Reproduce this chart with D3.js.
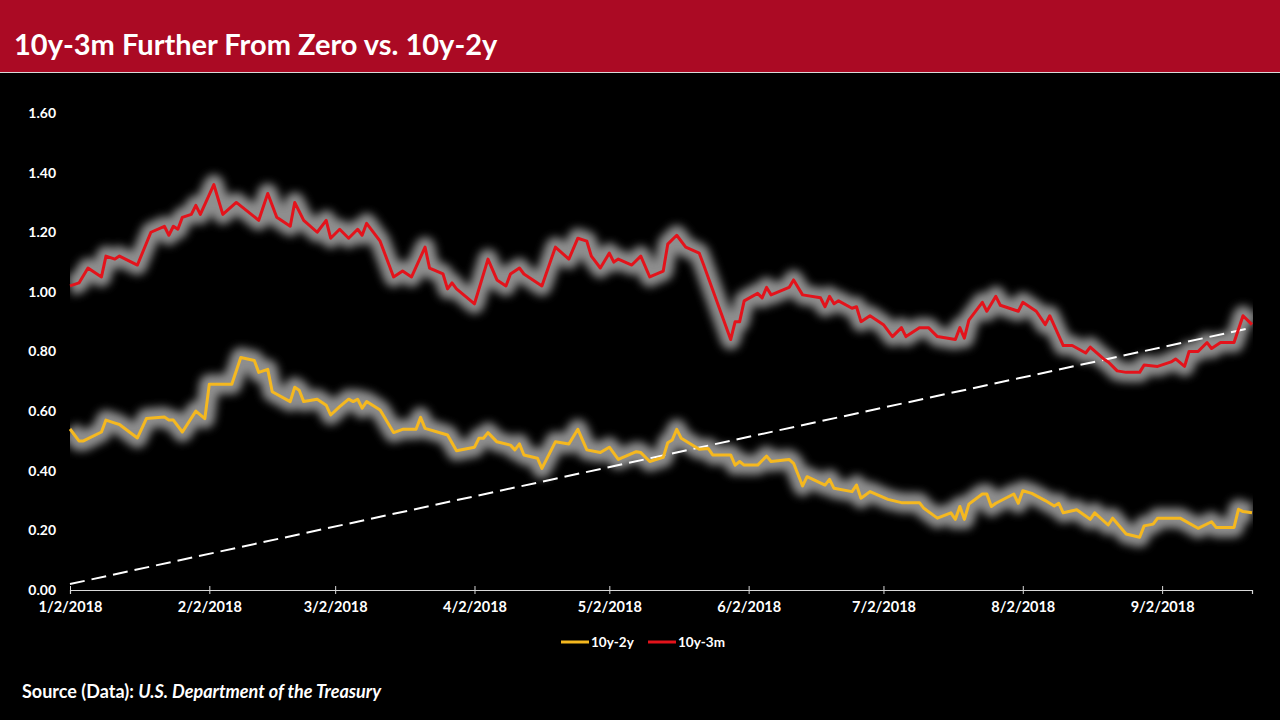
<!DOCTYPE html>
<html><head><meta charset="utf-8">
<script src="https://cdn.jsdelivr.net/npm/d3@7"></script>
<style>html,body{margin:0;padding:0;background:#000;}svg{display:block;}</style>
</head><body>
<svg id="chart" width="1280" height="720"></svg>
<script>
const titleText = "10y-3m Further From Zero vs. 10y-2y";
const sourceLabel = "Source (Data): ";
const sourceName = "U.S. Department of the Treasury";
const seriesNames = ["10y-2y", "10y-3m"];
const yTicks = [0, 0.2, 0.4, 0.6, 0.8, 1.0, 1.2, 1.4, 1.6];
const xTickLabels = ["2018-01-02","2018-02-02","2018-03-02","2018-04-02","2018-05-02","2018-06-02","2018-07-02","2018-08-02","2018-09-02"];
const xDomain = ["2018-01-02", "2018-09-22"];

const dates2y = ["01-02","01-04","01-05","01-09","01-10","01-12","01-13","01-17","01-19","01-23","01-24","01-25","01-27","01-30","02-01","02-02","02-07","02-09","02-12","02-13","02-15","02-16","02-20","02-21","02-22","02-23","02-26","02-28","03-01","03-03","03-05","03-06","03-07","03-08","03-09","03-12","03-15","03-17","03-20","03-21","03-22","03-27","03-29","04-02","04-03","04-04","04-05","04-07","04-10","04-11","04-12","04-13","04-16","04-17","04-20","04-23","04-25","04-27","04-30","05-02","05-04","05-08","05-09","05-11","05-12","05-14","05-15","05-16","05-17","05-18","05-22","05-24","05-25","05-29","05-30","05-31","06-01","06-04","06-06","06-07","06-11","06-12","06-14","06-15","06-19","06-20","06-21","06-25","06-26","06-27","06-29","07-03","07-06","07-10","07-11","07-14","07-17","07-18","07-19","07-20","07-21","07-24","07-25","07-26","07-27","07-31","08-01","08-02","08-04","08-07","08-09","08-10","08-11","08-14","08-17","08-18","08-21","08-22","08-25","08-28","08-29","08-31","09-01","09-06","09-10","09-13","09-14","09-18","09-19","09-20","09-22"];
const values2y = [0.54,0.50,0.50,0.53,0.57,0.56,0.555,0.51,0.575,0.58,0.57,0.57,0.53,0.60,0.575,0.69,0.69,0.78,0.77,0.73,0.74,0.665,0.632,0.68,0.67,0.632,0.64,0.62,0.587,0.615,0.64,0.632,0.64,0.61,0.632,0.604,0.528,0.539,0.539,0.579,0.542,0.52,0.467,0.479,0.509,0.509,0.528,0.497,0.486,0.47,0.49,0.453,0.442,0.408,0.497,0.49,0.539,0.47,0.461,0.479,0.438,0.464,0.461,0.431,0.436,0.445,0.494,0.503,0.539,0.509,0.472,0.475,0.453,0.453,0.419,0.431,0.419,0.419,0.449,0.431,0.438,0.425,0.349,0.38,0.352,0.371,0.341,0.33,0.352,0.308,0.33,0.304,0.293,0.293,0.274,0.241,0.259,0.237,0.28,0.237,0.288,0.322,0.322,0.28,0.291,0.322,0.291,0.333,0.324,0.30,0.282,0.291,0.259,0.269,0.237,0.259,0.218,0.241,0.188,0.177,0.215,0.221,0.241,0.241,0.207,0.229,0.21,0.21,0.271,0.263,0.259];

const dates3m = ["01-02","01-04","01-06","01-09","01-10","01-12","01-13","01-17","01-20","01-23","01-24","01-25","01-26","01-27","01-29","01-30","01-31","02-03","02-05","02-08","02-13","02-15","02-17","02-20","02-21","02-23","02-26","02-28","03-01","03-03","03-05","03-07","03-08","03-09","03-12","03-15","03-17","03-19","03-22","03-23","03-26","03-27","03-28","03-29","04-02","04-05","04-07","04-09","04-10","04-12","04-13","04-17","04-20","04-23","04-25","04-27","04-28","04-30","05-02","05-03","05-04","05-07","05-09","05-11","05-14","05-15","05-17","05-19","05-22","05-23","05-29","05-30","05-31","06-01","06-04","06-05","06-06","06-07","06-11","06-12","06-14","06-18","06-19","06-20","06-21","06-22","06-25","06-26","06-27","06-29","07-02","07-04","07-06","07-07","07-10","07-12","07-14","07-18","07-19","07-20","07-21","07-24","07-25","07-27","07-28","08-01","08-02","08-05","08-07","08-08","08-11","08-13","08-16","08-17","08-20","08-21","08-23","08-25","08-28","08-29","09-01","09-04","09-05","09-07","09-08","09-10","09-12","09-13","09-15","09-18","09-20","09-22"];
const values3m = [1.02,1.03,1.08,1.05,1.12,1.11,1.12,1.09,1.20,1.22,1.19,1.22,1.21,1.25,1.26,1.29,1.26,1.36,1.26,1.30,1.24,1.33,1.25,1.22,1.30,1.24,1.20,1.24,1.18,1.21,1.18,1.21,1.19,1.23,1.17,1.05,1.07,1.05,1.15,1.08,1.06,1.01,1.03,1.01,0.96,1.11,1.04,1.02,1.06,1.08,1.06,1.02,1.15,1.11,1.18,1.17,1.12,1.08,1.13,1.10,1.11,1.09,1.12,1.05,1.07,1.16,1.19,1.15,1.13,1.09,0.84,0.90,0.90,0.97,0.995,0.98,1.015,0.99,1.015,1.04,0.99,0.98,0.95,0.985,0.96,0.97,0.945,0.95,0.90,0.92,0.89,0.85,0.88,0.85,0.88,0.88,0.85,0.84,0.88,0.845,0.905,0.965,0.935,0.985,0.955,0.935,0.965,0.935,0.89,0.92,0.82,0.82,0.795,0.815,0.775,0.765,0.735,0.73,0.73,0.755,0.75,0.765,0.775,0.75,0.80,0.80,0.83,0.81,0.83,0.83,0.92,0.89];

const trendDates = ["2018-01-02", "2018-09-22"];
const trendValues = [0.02, 0.88];

const colors = {"10y-2y": "#f5b81f", "10y-3m": "#e3131b"};

const parse = d3.timeParse("%Y-%m-%d");
const fmtTick = d => (d.getMonth() + 1) + "/" + d.getDate() + "/" + d.getFullYear();

const svg = d3.select("#chart");
const W = 1280, H = 720;
const FONT = "Lato, 'Open Sans', sans-serif";

svg.append("rect").attr("width", W).attr("height", H).attr("fill", "#000");

// title bar
svg.append("rect").attr("x", 0).attr("y", 0).attr("width", W).attr("height", 72).attr("fill", "#ab0a24");
svg.append("line").attr("x1", 0).attr("x2", W).attr("y1", 72.5).attr("y2", 72.5).attr("stroke", "#d9d9d9").attr("stroke-width", 1);
svg.append("text").attr("x", 14).attr("y", 55).attr("fill", "#fff")
  .attr("font-family", FONT).attr("font-weight", "bold").attr("font-size", 29)
  .text(titleText);

const plotLeft = 70, plotRight = 1252, plotTop = 113, plotBottom = 590;
const x = d3.scaleTime().domain(xDomain.map(parse)).range([plotLeft, plotRight]);
const y = d3.scaleLinear().domain([0, 1.6]).range([plotBottom, plotTop]);

const defs = svg.append("defs");
const glow = defs.append("filter").attr("id", "glow").attr("x", "-10%").attr("y", "-20%").attr("width", "120%").attr("height", "140%");
glow.append("feGaussianBlur").attr("in", "SourceGraphic").attr("stdDeviation", 4.5);
defs.append("clipPath").attr("id", "plotclip").append("rect")
  .attr("x", plotLeft).attr("y", 0).attr("width", plotRight - plotLeft + 1).attr("height", H);

// y axis (labels only)
const yAxis = d3.axisLeft(y).tickValues(yTicks).tickFormat(d3.format(".2f")).tickSize(0).tickPadding(0);
const yg = svg.append("g").attr("transform", "translate(56,0)").call(yAxis);
yg.select(".domain").remove();
yg.selectAll("text").attr("fill", "#fff").attr("font-family", FONT).attr("font-weight", "bold").attr("font-size", 14);

// x axis
const xAxis = d3.axisBottom(x).tickValues(xTickLabels.map(parse)).tickFormat(fmtTick).tickSizeOuter(0).tickSize(4).tickPadding(8);
const xg = svg.append("g").attr("transform", `translate(0,${plotBottom})`).call(xAxis);
xg.select(".domain").attr("stroke", "#d9d9d9").attr("stroke-width", 1.2);
xg.selectAll(".tick line").attr("stroke", "#d9d9d9").attr("y1", -4).attr("y2", 4);
xg.selectAll("text").attr("fill", "#fff").attr("font-family", FONT).attr("font-weight", "bold").attr("font-size", 14.5);

const series = [
  {name: "10y-2y", pts: dates2y.map((d, i) => ({date: parse("2018-" + d), v: values2y[i]}))},
  {name: "10y-3m", pts: dates3m.map((d, i) => ({date: parse("2018-" + d), v: values3m[i]}))}
];
const line = d3.line().x(d => x(d.date)).y(d => y(d.v));

// glows
const glowG = svg.append("g").attr("clip-path", "url(#plotclip)");
series.forEach(s => {
  glowG.append("path").datum(s.pts).attr("d", line).attr("fill", "none")
    .attr("stroke", "#8e8e8e").attr("stroke-width", 20).attr("stroke-linejoin", "round")
    .attr("stroke-opacity", 1).attr("filter", "url(#glow)");
});

// trend dashed line
const trendPts = trendDates.map((d, i) => ({date: parse(d), v: trendValues[i]}));
svg.append("path").datum(trendPts).attr("d", line).attr("fill", "none")
  .attr("stroke", "#fff").attr("stroke-width", 2).attr("stroke-dasharray", "15,7");

// lines
series.forEach(s => {
  svg.append("path").datum(s.pts).attr("d", line).attr("fill", "none")
    .attr("stroke", colors[s.name]).attr("stroke-width", 3).attr("stroke-linejoin", "round");
});

// legend
const legend = svg.append("g");
const legendItems = [{name: seriesNames[0], x0: 561}, {name: seriesNames[1], x0: 648}];
legendItems.forEach(it => {
  legend.append("line").attr("x1", it.x0).attr("x2", it.x0 + 28).attr("y1", 642).attr("y2", 642)
    .attr("stroke", colors[it.name]).attr("stroke-width", 3);
  legend.append("text").attr("x", it.x0 + 30).attr("y", 647).attr("fill", "#fff")
    .attr("font-family", FONT).attr("font-weight", "bold").attr("font-size", 13.5).text(it.name);
});

// source
const src = svg.append("text").attr("x", 22).attr("y", 698).attr("fill", "#fff")
  .attr("font-family", FONT).attr("font-weight", "bold").attr("font-size", 18);
src.append("tspan").text(sourceLabel);
src.append("tspan").attr("font-style", "italic").text(sourceName);
</script>
</body></html>
